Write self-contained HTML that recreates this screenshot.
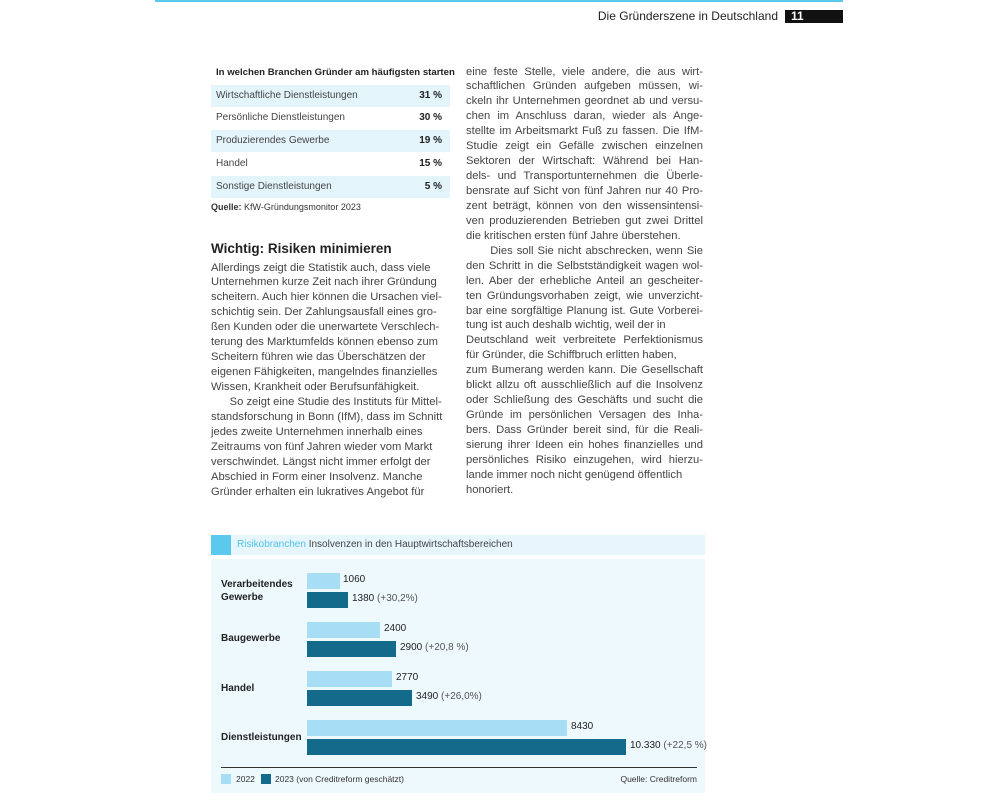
<!DOCTYPE html>
<html><head><meta charset="utf-8"><style>
body{margin:0;width:1000px;height:800px;background:#fff;position:relative;overflow:hidden;font-family:"Liberation Sans",sans-serif;}
.a{position:absolute;white-space:nowrap;}
.col{position:absolute;font-size:11.2px;line-height:14.93px;color:#444;}
.col div{white-space:nowrap;}
.r div{text-align:justify;text-align-last:justify;}
.r div.l{text-align-last:left;}
.row{position:absolute;left:211px;width:239px;height:22px;font-size:10px;color:#444;}
.row span{position:absolute;left:5px;top:5px;}
.row b{position:absolute;right:8px;top:5px;color:#222;}
.sh{background:#e3f4fb;}
.lab{position:absolute;left:221px;font-size:10px;font-weight:bold;color:#222;line-height:13px;}
.bar{position:absolute;left:307px;height:16px;}
.lt{background:#a8def5;}
.dk{background:#136a8a;}
.v{position:absolute;font-size:10px;color:#222;}
.v i{font-style:normal;color:#555;}
</style></head><body>
<div class="a" style="left:155px;top:0;width:688px;height:2px;background:#5bc8ee"></div>
<div class="a" style="left:560px;top:9px;width:218px;text-align:right;font-size:12px;color:#222">Die Gründerszene in Deutschland</div>
<div class="a" style="left:785px;top:10px;width:58px;height:13px;background:#111;color:#fff;font-size:12px;font-weight:bold;line-height:13px;padding-left:6px;box-sizing:border-box">11</div>

<div class="a" style="left:216px;top:67px;font-size:9.6px;font-weight:bold;color:#222">In welchen Branchen Gründer am häufigsten starten</div>
<div class="row sh" style="top:85px"><span>Wirtschaftliche Dienstleistungen</span><b>31 %</b></div>
<div class="row" style="top:107px"><span>Persönliche Dienstleistungen</span><b>30 %</b></div>
<div class="row sh" style="top:130px"><span>Produzierendes Gewerbe</span><b>19 %</b></div>
<div class="row" style="top:153px"><span>Handel</span><b>15 %</b></div>
<div class="row sh" style="top:176px"><span>Sonstige Dienstleistungen</span><b>5 %</b></div>
<div class="a" style="left:211px;top:202px;font-size:9px;color:#333"><b>Quelle:</b> KfW-Gründungsmonitor 2023</div>

<div class="a" style="left:211px;top:241px;font-size:13.5px;font-weight:bold;color:#222">Wichtig: Risiken minimieren</div>
<div class="col" style="left:211px;top:260.5px;width:245px">
<div>Allerdings zeigt die Statistik auch, dass viele</div>
<div>Unternehmen kurze Zeit nach ihrer Gründung</div>
<div>scheitern. Auch hier können die Ursachen viel-</div>
<div>schichtig sein. Der Zahlungsausfall eines gro-</div>
<div>ßen Kunden oder die unerwartete Verschlech-</div>
<div>terung des Marktumfelds können ebenso zum</div>
<div>Scheitern führen wie das Überschätzen der</div>
<div>eigenen Fähigkeiten, mangelndes finanzielles</div>
<div>Wissen, Krankheit oder Berufsunfähigkeit.</div>
<div>&nbsp;&nbsp;&nbsp;&nbsp;&nbsp;&nbsp;So zeigt eine Studie des Instituts für Mittel-</div>
<div>standsforschung in Bonn (IfM), dass im Schnitt</div>
<div>jedes zweite Unternehmen innerhalb eines</div>
<div>Zeitraums von fünf Jahren wieder vom Markt</div>
<div>verschwindet. Längst nicht immer erfolgt der</div>
<div>Abschied in Form einer Insolvenz. Manche</div>
<div>Gründer erhalten ein lukratives Angebot für</div>
</div>

<div class="col r" style="left:466px;top:64.5px;width:237px">
<div>eine feste Stelle, viele andere, die aus wirt-</div>
<div>schaftlichen Gründen aufgeben müssen, wi-</div>
<div>ckeln ihr Unternehmen geordnet ab und versu-</div>
<div>chen im Anschluss daran, wieder als Ange-</div>
<div>stellte im Arbeitsmarkt Fuß zu fassen. Die IfM-</div>
<div>Studie zeigt ein Gefälle zwischen einzelnen</div>
<div>Sektoren der Wirtschaft: Während bei Han-</div>
<div>dels- und Transportunternehmen die Überle-</div>
<div>bensrate auf Sicht von fünf Jahren nur 40 Pro-</div>
<div>zent beträgt, können von den wissensintensi-</div>
<div>ven produzierenden Betrieben gut zwei Drittel</div>
<div class="l">die kritischen ersten fünf Jahre überstehen.</div>
<div>&nbsp;&nbsp;&nbsp;&nbsp;&nbsp;&nbsp;Dies soll Sie nicht abschrecken, wenn Sie</div>
<div>den Schritt in die Selbstständigkeit wagen wol-</div>
<div>len. Aber der erhebliche Anteil an gescheiter-</div>
<div>ten Gründungsvorhaben zeigt, wie unverzicht-</div>
<div>bar eine sorgfältige Planung ist. Gute Vorberei-</div>
<div class="l">tung ist auch deshalb wichtig, weil der in</div>
<div>Deutschland weit verbreitete Perfektionismus</div>
<div class="l">für Gründer, die Schiffbruch erlitten haben,</div>
<div>zum Bumerang werden kann. Die Gesellschaft</div>
<div>blickt allzu oft ausschließlich auf die Insolvenz</div>
<div>oder Schließung des Geschäfts und sucht die</div>
<div>Gründe im persönlichen Versagen des Inha-</div>
<div>bers. Dass Gründer bereit sind, für die Reali-</div>
<div>sierung ihrer Ideen ein hohes finanzielles und</div>
<div>persönliches Risiko einzugehen, wird hierzu-</div>
<div class="l">lande immer noch nicht genügend öffentlich</div>
<div class="l">honoriert.</div>
</div>

<div class="a" style="left:211px;top:535px;width:494px;height:20px;background:#e6f6fc"></div>
<div class="a" style="left:211px;top:535px;width:20px;height:20px;background:#5bc8ee"></div>
<div class="a" style="left:237px;top:539px;font-size:10px;color:#444"><span style="color:#4ec3ec">Risikobranchen</span> Insolvenzen in den Hauptwirtschaftsbereichen</div>
<div class="a" style="left:211px;top:559px;width:494px;height:234px;background:#eef9fd"></div>

<div class="lab" style="top:578px">Verarbeitendes<br>Gewerbe</div>
<div class="bar lt" style="top:573px;width:33px"></div>
<div class="v" style="left:343px;top:574px">1060</div>
<div class="bar dk" style="top:592px;width:41px"></div>
<div class="v" style="left:352px;top:593px">1380 <i>(+30,2%)</i></div>

<div class="lab" style="top:632px">Baugewerbe</div>
<div class="bar lt" style="top:622px;width:73px"></div>
<div class="v" style="left:384px;top:623px">2400</div>
<div class="bar dk" style="top:641px;width:89px"></div>
<div class="v" style="left:400px;top:642px">2900 <i>(+20,8 %)</i></div>

<div class="lab" style="top:682px">Handel</div>
<div class="bar lt" style="top:671px;width:85px"></div>
<div class="v" style="left:396px;top:672px">2770</div>
<div class="bar dk" style="top:690px;width:105px"></div>
<div class="v" style="left:416px;top:691px">3490 <i>(+26,0%)</i></div>

<div class="lab" style="top:731px">Dienstleistungen</div>
<div class="bar lt" style="top:720px;width:260px"></div>
<div class="v" style="left:571px;top:721px">8430</div>
<div class="bar dk" style="top:739px;width:319px"></div>
<div class="v" style="left:630px;top:740px">10.330 <i>(+22,5 %)</i></div>

<div class="a" style="left:221px;top:767px;width:476px;height:1px;background:#333"></div>
<div class="a" style="left:221px;top:774px;width:10px;height:10px;background:#a8def5"></div>
<div class="a" style="left:236px;top:774px;font-size:8.5px;color:#333">2022</div>
<div class="a" style="left:261px;top:774px;width:10px;height:10px;background:#136a8a"></div>
<div class="a" style="left:275px;top:774px;font-size:8.5px;color:#333">2023 (von Creditreform geschätzt)</div>
<div class="a" style="left:600px;top:774px;width:97px;text-align:right;font-size:8.5px;color:#333">Quelle: Creditreform</div>
</body></html>
